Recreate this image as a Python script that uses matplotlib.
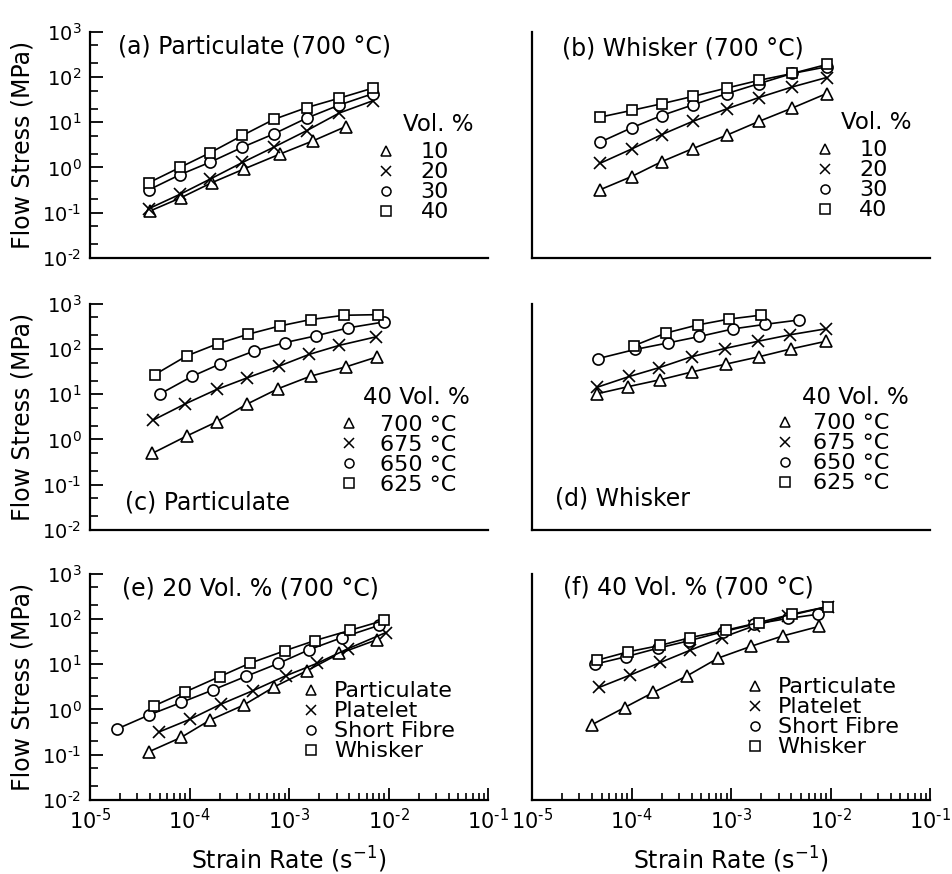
import matplotlib
matplotlib.use('Agg')
import numpy as np
import matplotlib.pyplot as plt
from matplotlib.ticker import LogLocator, NullFormatter, FuncFormatter

plt.rcParams['font.family'] = 'DejaVu Sans'
plt.rcParams['mathtext.fontset'] = 'dejavusans'

# ---- data (strain rate in 1/s, flow stress in MPa) ----
# (a) particulate, 700 C, vol. % 10/20/30/40
a_rate = [3.9e-5, 8.0e-5, 1.6e-4, 3.4e-4, 7.0e-4, 1.5e-3, 3.2e-3, 7.0e-3]
a_rate10 = [4.0e-5, 8.2e-5, 1.67e-4, 3.5e-4, 8.1e-4, 1.75e-3, 3.7e-3]
a_10 = [0.109, 0.215, 0.46, 0.92, 1.98, 3.9, 8.0]
a_20 = [0.123, 0.255, 0.55, 1.29, 2.8, 6.5, 16, 30]
a_30 = [0.32, 0.69, 1.3, 2.8, 5.5, 12.3, 24, 43]
a_40 = [0.46, 1.0, 2.1, 5.1, 11.5, 21, 34, 57]

# (b) whisker, 700 C
b_rate = [4.8e-5, 1.0e-4, 2.0e-4, 4.1e-4, 9.1e-4, 1.9e-3, 4.1e-3, 9.1e-3]
b_10 = [0.32, 0.63, 1.34, 2.6, 5.2, 10.4, 20.5, 43]
b_20 = [1.23, 2.55, 5.3, 10.4, 19.8, 35, 60, 97]
b_30 = [3.6, 7.5, 14, 24, 43, 71, 119, 167]
b_40 = [12.9, 18.2, 25.5, 37, 57, 84, 119, 188]

# (c) particulate, 40 vol. %, 700/675/650/625 C
c_rate700 = [4.2e-5, 9.35e-5, 1.87e-4, 3.75e-4, 7.8e-4, 1.64e-3, 3.7e-3, 7.7e-3]
c_700 = [0.49, 1.19, 2.45, 6.0, 13.3, 25, 40, 67]
c_rate675 = [4.3e-5, 8.9e-5, 1.87e-4, 3.8e-4, 7.9e-4, 1.6e-3, 3.2e-3, 7.4e-3]
c_675 = [2.67, 6.0, 12.7, 23, 41.5, 76, 120, 184]
c_rate650 = [5.0e-5, 1.07e-4, 2.0e-4, 4.4e-4, 9.1e-4, 1.85e-3, 3.9e-3, 9.0e-3]
c_650 = [10, 25, 46, 89, 138, 194, 291, 394]
c_rate625 = [4.47e-5, 9.35e-5, 1.93e-4, 3.87e-4, 8.1e-4, 1.64e-3, 3.56e-3, 7.8e-3]
c_625 = [27, 70, 131, 211, 322, 444, 553, 571]

# (d) whisker, 40 vol. %
d_rate700 = [4.5e-5, 9.3e-5, 1.95e-4, 4.05e-4, 8.8e-4, 1.9e-3, 4.0e-3, 8.9e-3]
d_700 = [10.2, 14.7, 20.9, 31, 46, 67, 100, 147]
d_rate675 = [4.5e-5, 9.5e-5, 1.9e-4, 4.0e-4, 8.6e-4, 1.85e-3, 3.9e-3, 8.9e-3]
d_675 = [14.2, 24.6, 38.6, 67, 102, 147, 205, 277]
d_rate650 = [4.6e-5, 1.08e-4, 2.3e-4, 4.8e-4, 1.05e-3, 2.2e-3, 4.75e-3]
d_650 = [61, 97, 135, 188, 277, 349, 434]
d_rate625 = [1.06e-4, 2.2e-4, 4.6e-4, 9.6e-4, 2.0e-3]
d_625 = [118, 223, 338, 457, 557]

# (e) 20 vol. %, 700 C, reinforcement type
e_rate_part = [3.9e-5, 8.2e-5, 1.6e-4, 3.5e-4, 7.1e-4, 1.5e-3, 3.2e-3, 7.7e-3]
e_part = [0.116, 0.24, 0.58, 1.25, 3.16, 7.1, 17.2, 35]
e_rate_plat = [4.97e-5, 1.0e-4, 2.07e-4, 4.3e-4, 9.2e-4, 1.9e-3, 3.9e-3, 9.4e-3]
e_plat = [0.32, 0.60, 1.31, 2.58, 5.5, 10.4, 22, 50]
e_rate_fib = [1.87e-5, 3.9e-5, 8.3e-5, 1.7e-4, 3.7e-4, 7.8e-4, 1.6e-3, 3.4e-3, 8.0e-3]
e_fib = [0.37, 0.75, 1.43, 2.67, 5.4, 10.4, 21, 38.7, 72]
e_rate_whi = [4.4e-5, 9.1e-5, 2.0e-4, 4.0e-4, 9.0e-4, 1.8e-3, 4.1e-3, 9.0e-3]
e_whi = [1.2, 2.45, 5.3, 10.4, 19.7, 33, 56, 93]

# (f) 40 vol. %, 700 C
f_rate_part = [4.0e-5, 8.5e-5, 1.65e-4, 3.6e-4, 7.4e-4, 1.6e-3, 3.3e-3, 7.6e-3]
f_part = [0.46, 1.1, 2.37, 5.5, 13.6, 25, 42, 68]
f_rate_plat = [4.7e-5, 9.6e-5, 1.95e-4, 3.9e-4, 8.1e-4, 1.7e-3, 3.7e-3, 9.3e-3]
f_plat = [3.05, 5.7, 10.9, 20.4, 38.7, 70, 116, 187]
f_rate_fib = [4.3e-5, 8.7e-5, 1.84e-4, 3.8e-4, 8.3e-4, 1.7e-3, 3.7e-3, 7.5e-3]
f_fib = [10, 14.5, 22.5, 33, 52, 76, 102, 127]
f_rate_whi = [4.5e-5, 9.2e-5, 1.95e-4, 3.9e-4, 8.8e-4, 1.9e-3, 4.06e-3, 9.3e-3]
f_whi = [12.2, 18.7, 26, 38.7, 56, 83, 127, 187]

vol_labels = ['10', '20', '30', '40']
temp_labels = ['700 °C', '675 °C', '650 °C', '625 °C']
type_labels = ['Particulate', 'Platelet', 'Short Fibre', 'Whisker']
markers = ['^', 'x', 'o', 's']

fig = plt.figure(figsize=(9.53, 8.74), dpi=100)

#axes geometry in figure fractions
LX, RX, W = 0.0944, 0.5582, 0.418
ROWS = [0.7048, 0.3936, 0.0847]
H = 0.259


#powers of ten with a short dash, like the printed figure
def pow10(v, pos):
	n = int(round(np.log10(v)))
	if n < 0:
		return '$10^{\u2010%d}$' % (-n)
	return '$10^{%d}$' % n


def make_axes(x0, y0, left, bottom):
	ax = fig.add_axes([x0, y0, W, H])
	ax.set_xscale('log')
	ax.set_yscale('log')
	ax.set_xlim(1e-5, 1e-1)
	ax.set_ylim(1e-2, 1e3)
	ax.spines['top'].set_visible(False)
	ax.spines['right'].set_visible(False)
	ax.spines['left'].set_linewidth(1.6)
	ax.spines['bottom'].set_linewidth(1.6)
	ax.patch.set_alpha(0)
	if left:
		ax.yaxis.set_major_locator(LogLocator(base=10, numticks=12))
		ax.yaxis.set_major_formatter(FuncFormatter(pow10))
		ax.yaxis.set_minor_locator(LogLocator(base=10, subs=(2.0, 5.0), numticks=12))
		ax.yaxis.set_minor_formatter(NullFormatter())
		ax.tick_params(axis='y', which='major', direction='in', length=9, width=1.3, pad=6, labelsize=14)
		ax.tick_params(axis='y', which='minor', direction='in', length=6, width=1.2)
		ax.set_ylabel('Flow Stress (MPa)', fontsize=17)
		ax.yaxis.set_label_coords(-0.14, 0.5)
	else:
		ax.tick_params(axis='y', which='both', left=False, labelleft=False)
	if bottom:
		ax.xaxis.set_major_locator(LogLocator(base=10, numticks=12))
		ax.xaxis.set_major_formatter(FuncFormatter(pow10))
		ax.xaxis.set_minor_locator(LogLocator(base=10, subs=range(2, 10), numticks=12))
		ax.xaxis.set_minor_formatter(NullFormatter())
		ax.tick_params(axis='x', which='major', direction='in', length=9, width=1.3, pad=6, labelsize=15)
		ax.tick_params(axis='x', which='minor', direction='in', length=5, width=1.2)
		ax.set_xlabel(r'Strain Rate (s$^{-1}$)', fontsize=17)
		ax.xaxis.set_label_coords(0.5, -0.2)
	else:
		ax.tick_params(axis='x', which='both', bottom=False, labelbottom=False)
	return ax


def draw(ax, series, labels, leg_xy, pad):
	for (x, y), m, lab in zip(series, markers, labels):
		ms = 7 if m == 's' else 8
		ax.plot(x, y, color='black', lw=1.2, marker=m, ms=ms, mfc='white',
			mec='black', mew=1.2, label=lab)
	leg = ax.legend(loc='upper left', bbox_to_anchor=leg_xy, frameon=False, fontsize=16,
		handlelength=0.8, handletextpad=pad, labelspacing=0.0, borderpad=0, borderaxespad=0)
	for h in leg.legend_handles:
		h.set_linestyle('none')
		h.set_markersize(6.5)
		h.set_markeredgewidth(1.1)
	return leg


ax_a = make_axes(LX, ROWS[0], True, False)
draw(ax_a, [(a_rate10, a_10), (a_rate, a_20), (a_rate, a_30), (a_rate, a_40)], vol_labels, (0.721, 0.511), 1.15)
ax_a.text(0.786, 0.591, 'Vol. %', transform=ax_a.transAxes, fontsize=16.5, ha='left', va='center')
ax_a.text(0.07, 0.933, '(a) Particulate (700 °C)', transform=ax_a.transAxes, fontsize=17, ha='left', va='center')

ax_b = make_axes(RX, ROWS[0], False, False)
draw(ax_b, [(b_rate, b_10), (b_rate, b_20), (b_rate, b_30), (b_rate, b_40)], vol_labels, (0.7125, 0.52), 1.15)
ax_b.text(0.775, 0.6, 'Vol. %', transform=ax_b.transAxes, fontsize=16.5, ha='left', va='center')
ax_b.text(0.075, 0.924, '(b) Whisker (700 °C)', transform=ax_b.transAxes, fontsize=17, ha='left', va='center')

ax_c = make_axes(LX, ROWS[1], True, False)
draw(ax_c, [(c_rate700, c_700), (c_rate675, c_675), (c_rate650, c_650), (c_rate625, c_625)], temp_labels, (0.628, 0.507), 1.0)
ax_c.text(0.686, 0.586, '40 Vol. %', transform=ax_c.transAxes, fontsize=16.5, ha='left', va='center')
ax_c.text(0.088, 0.123, '(c) Particulate', transform=ax_c.transAxes, fontsize=17, ha='left', va='center')

ax_d = make_axes(RX, ROWS[1], False, False)
draw(ax_d, [(d_rate700, d_700), (d_rate675, d_675), (d_rate650, d_650), (d_rate625, d_625)], temp_labels, (0.6125, 0.515), 0.85)
ax_d.text(0.6775, 0.586, '40 Vol. %', transform=ax_d.transAxes, fontsize=16.5, ha='left', va='center')
ax_d.text(0.0575, 0.14, '(d) Whisker', transform=ax_d.transAxes, fontsize=17, ha='left', va='center')

ax_e = make_axes(LX, ROWS[2], True, True)
draw(ax_e, [(e_rate_part, e_part), (e_rate_plat, e_plat), (e_rate_fib, e_fib), (e_rate_whi, e_whi)], type_labels, (0.533, 0.524), 0.62)
ax_e.text(0.08, 0.934, '(e) 20 Vol. % (700 °C)', transform=ax_e.transAxes, fontsize=17, ha='left', va='center')

ax_f = make_axes(RX, ROWS[2], False, True)
draw(ax_f, [(f_rate_part, f_part), (f_rate_plat, f_plat), (f_rate_fib, f_fib), (f_rate_whi, f_whi)], type_labels, (0.5375, 0.542), 0.62)
ax_f.text(0.078, 0.938, '(f) 40 Vol. % (700 °C)', transform=ax_f.transAxes, fontsize=17, ha='left', va='center')

fig.savefig('out.png', dpi=100)
